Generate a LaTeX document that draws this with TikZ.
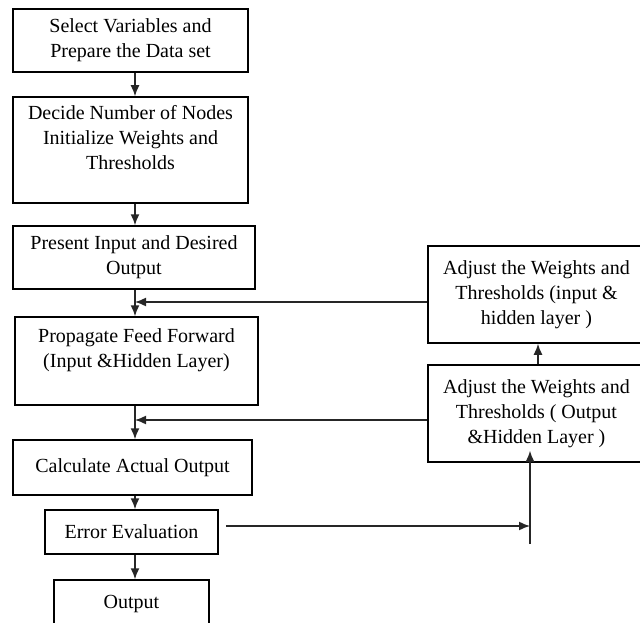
\documentclass[tikz,border=0pt]{standalone}
\usepackage{fontspec}
\setmainfont{Liberation Serif}
\usepackage{tikz}
\usetikzlibrary{arrows.meta}

\begin{document}
\begin{tikzpicture}[x=1pt, y=-1pt,
    box/.style={draw, line width=1.5pt, align=center, inner sep=2pt,
        font=\fontsize{20}{25}\selectfont},
    link/.style={line width=1.5pt, draw=black!85, -{Latex[length=11pt,width=9pt]}}]
    \useasboundingbox (0,0) rectangle (640,623);

    % Define boxes
    \node[box, minimum width=235pt, minimum height=63pt] (select) at (130.5,40.5) {Select Variables and\\Prepare the Data set};
    \node[box, minimum width=235pt, minimum height=106pt] (decide) at (130.5,150) {Decide Number of Nodes\\Initialize Weights and\\Thresholds\\ \mbox{}};
    \node[box, minimum width=242pt, minimum height=63pt] (present) at (134,257.5) {Present Input and Desired\\Output};
    \node[box, minimum width=243pt, minimum height=88pt] (propagate) at (136.5,361) {Propagate Feed Forward\\(Input \&Hidden Layer)\\ \mbox{}};
    \node[box, minimum width=239pt, minimum height=55pt] (calculate) at (132.5,467.5) {Calculate Actual Output};
    \node[box, minimum width=173pt, minimum height=44pt] (error) at (131.5,532) {Error Evaluation};
    \node[box, minimum width=155pt, minimum height=48pt] (output) at (131.5,604) {Output};
    \node[box, minimum width=217pt, minimum height=97pt] (adjustin) at (536.5,294.5) {Adjust the Weights and\\Thresholds (input \&\\hidden layer )};
    \node[box, minimum width=217pt, minimum height=97pt] (adjustout) at (536.5,413.5) {Adjust the Weights and\\Thresholds ( Output\\\&Hidden Layer )};

    % Junction points
    \coordinate (axis) at (135,0);
    \coordinate (fb1) at (135,302);
    \coordinate (fb2) at (135,420);
    \coordinate (tail) at (530,544);
    \coordinate (up) at (538,0);

    % Draw main flow
    \draw[link] (select.south -| axis) -- (decide.north -| axis);
    \draw[link] (decide.south -| axis) -- (present.north -| axis);
    \draw[link] (present.south -| axis) -- (propagate.north -| axis);
    \draw[link] (propagate.south -| axis) -- (calculate.north -| axis);
    \draw[link] (calculate.south -| axis) -- (error.north -| axis);
    \draw[link] (error.south -| axis) -- (output.north -| axis);

    % Draw feedback loop
    \draw[link, shorten <=7pt] ([yshift=6pt]error.east) -- ([yshift=6pt]error.east -| tail);
    \draw[link, shorten >=-12pt] (tail) -- (adjustout.south -| tail);
    \draw[link] (adjustout.north -| up) -- (adjustin.south -| up);
    \draw[link] (adjustin.west |- fb1) -- (fb1);
    \draw[link] (adjustout.west |- fb2) -- (fb2);
\end{tikzpicture}
\end{document}
